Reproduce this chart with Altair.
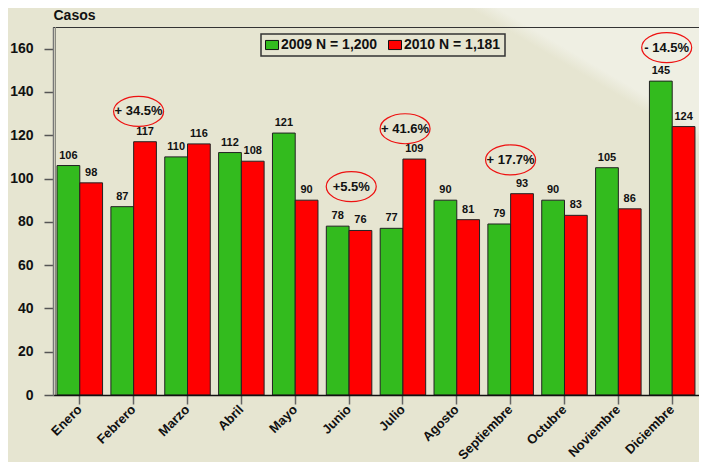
import altair as alt
import pandas as pd

months = ["Enero", "Febrero", "Marzo", "Abril", "Mayo", "Junio", "Julio",
          "Agosto", "Septiembre", "Octubre", "Noviembre", "Diciembre"]
series = ["2009 N = 1,200", "2010 N = 1,181"]
cases_2009 = [106, 87, 110, 112, 121, 78, 77, 90, 79, 90, 105, 145]
cases_2010 = [98, 117, 116, 108, 90, 76, 109, 81, 93, 83, 86, 124]
y_ticks = [0, 20, 40, 60, 80, 100, 120, 140, 160]

anno_text = ["+ 34.5%", "+5.5%", "+ 41.6%", "+ 17.7%", "- 14.5%"]
anno_pos = [1.59, 5.54, 6.54, 8.50, 11.40]   # position in month units
anno_val = [131.0, 96.3, 123.0, 108.6, 160.5]

FONT = "Liberation Sans"
BASE = "#E6E5D1"
LIGHT = "#EFEFE3"
colors = ["#33BB1E", "#FF0000"]

rows = []
for i, m in enumerate(months):
    rows.append({"month": m, "series": series[0], "value": cases_2009[i]})
    rows.append({"month": m, "series": series[1], "value": cases_2010[i]})
df = pd.DataFrame(rows)
anno = pd.DataFrame({"pos": anno_pos, "val": anno_val, "txt": anno_text})
one = pd.DataFrame({"a": [0]})

yscale = alt.Scale(domain=[0, 170], nice=False, zero=True)
xscale = alt.Scale(paddingInner=0.155, paddingOuter=0.075)

# background (square box so the gradient edge angle is unambiguous)
bg = alt.Chart(one).mark_rect(
    strokeWidth=0,
    fill={
        "gradient": "linear",
        "x1": 0, "y1": 1, "x2": 0.6939, "y2": -0.1801,
        "stops": [
            {"offset": 0, "color": BASE},
            {"offset": 0.877, "color": BASE},
            {"offset": 0.892, "color": LIGHT},
            {"offset": 1, "color": LIGHT},
        ],
    },
).encode(x=alt.value(-45), x2=alt.value(646), y=alt.value(-19), y2=alt.value(672))

top_rule = alt.Chart(one).mark_rule(color="#333333", strokeWidth=1).encode(
    x=alt.value(0), x2=alt.value(660), y=alt.value(0.5))
left_rule = alt.Chart(one).mark_rule(color="#8a8a80", strokeWidth=1).encode(
    x=alt.value(2.5), y=alt.value(0), y2=alt.value(368))

bars = alt.Chart(df).mark_bar(stroke="#222222", strokeWidth=1).encode(
    x=alt.X("month:N", sort=months, scale=xscale,
            axis=alt.Axis(title=None, labelAngle=-45, labelAlign="right",
                          labelBaseline="middle", labelFont=FONT,
                          labelFontSize=13, labelFontWeight="bold",
                          labelColor="#111111", labelPadding=3,
                          tickSize=9, tickColor="#666666", tickWidth=1.5,
                          domainColor="#111111", domainWidth=1.5, zindex=1)),
    xOffset=alt.XOffset("series:N", sort=series),
    y=alt.Y("value:Q", scale=yscale,
            axis=alt.Axis(values=y_ticks, grid=False, title="Casos",
                          titleAngle=0, titleAlign="left", titleX=0, titleY=-8,
                          titleBaseline="alphabetic", titleFont=FONT,
                          titleFontSize=14, titleFontWeight="bold",
                          titleColor="#111111",
                          labelFont=FONT, labelFontSize=14,
                          labelFontWeight="bold", labelColor="#111111",
                          labelPadding=11, tickSize=9, tickColor="#555555",
                          tickWidth=1.5, domainColor="#777777",
                          domainWidth=1.5, zindex=1)),
    color=alt.Color("series:N", sort=series,
                    scale=alt.Scale(domain=series, range=colors),
                    legend=alt.Legend(
                        orient="none", legendX=208, legendY=7,
                        direction="horizontal", title=None,
                        symbolType="M-1,-0.7L1,-0.7L1,0.7L-1,0.7Z",
                        symbolSize=169, symbolStrokeColor="#111111",
                        symbolStrokeWidth=1, symbolOpacity=1,
                        labelFont=FONT, labelFontSize=14,
                        labelFontWeight="bold", labelColor="#111111",
                        labelOffset=2, columnPadding=8, padding=4,
                        strokeColor="#333333")),
)

bar_labels = alt.Chart(df).mark_text(
    dy=-7, baseline="alphabetic", font=FONT, fontSize=11,
    fontWeight="bold", color="#111111",
).encode(
    x=alt.X("month:N", sort=months, scale=xscale),
    xOffset=alt.XOffset("series:N", sort=series),
    y=alt.Y("value:Q", scale=yscale),
    text="value:Q",
)

ax = alt.X("pos:Q", scale=alt.Scale(domain=[0, 12], nice=False, zero=False), axis=None)
ellipses = alt.Chart(anno).mark_point(
    shape="M-1,0A1,0.6,0,1,1,1,0A1,0.6,0,1,1,-1,0Z", size=2500,
    filled=False, stroke="#EE1111", strokeWidth=1.2, opacity=1,
).encode(x=ax, y=alt.Y("val:Q", scale=yscale))
anno_labels = alt.Chart(anno).mark_text(
    font=FONT, fontSize=13, fontWeight="bold", color="#111111",
    baseline="middle",
).encode(x=ax, y=alt.Y("val:Q", scale=yscale), text="txt:N")

base_layers = alt.layer(bg, top_rule, left_rule, bars, bar_labels)
chart = alt.layer(base_layers, ellipses, anno_labels).resolve_scale(
    x="independent"
).properties(
    width=646, height=368,
    autosize=alt.AutoSizeParams(type="none"),
    padding={"left": 45, "top": 19, "right": 0, "bottom": 67},
    background=BASE,
).configure_view(stroke=None).configure_legend(strokeWidth=1.5)

chart.save("out.html", embed_options={"renderer": "svg", "actions": False})
